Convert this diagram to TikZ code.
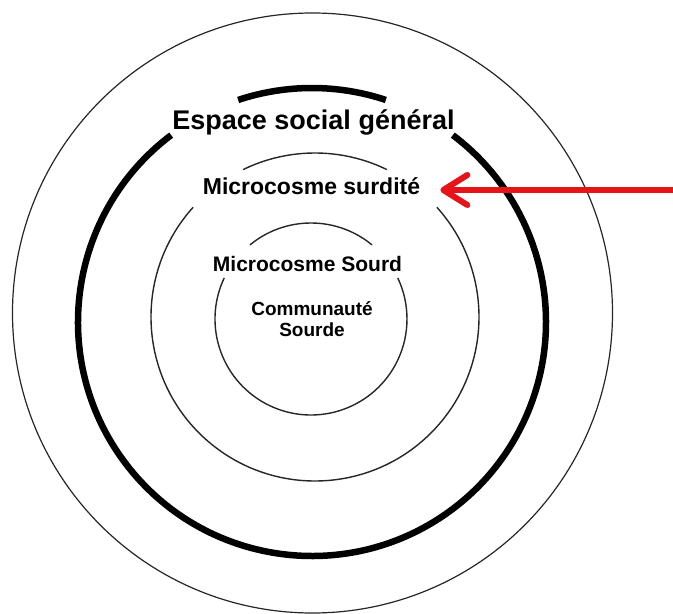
\documentclass[tikz,border=0pt]{standalone}
\usepackage{fontspec}
\setmainfont{Liberation Sans}
\usetikzlibrary{arrows.meta}
\definecolor{arrowred}{RGB}{228,20,24}
\tikzstyle{ring} = [
    line width=1.4pt,
    draw=black!85
]
\tikzstyle{thickring} = [
    line width=6.5pt,
    draw=black
]
\tikzstyle{ringtitle} = [
    inner sep=0pt,
    anchor=base
]
\tikzstyle{redarrow} = [line width=6pt, draw=arrowred, -{Straight Barb[length=24pt,width=30pt,round]}]

\begin{document}
\begin{tikzpicture}[x=1pt, y=1pt]
\useasboundingbox (0,0) rectangle (673,614);

\coordinate (outer) at (312.5,301);
\coordinate (social) at (312,292);
\coordinate (deafness) at (315,297);
\coordinate (deaf) at (311,295);

% outer ring
\draw [ring, line width=1.2pt] (outer) circle (300);

% thick ring, broken by its title
\draw [thickring] ([shift={(71.6:234)}]social) arc (71.6:108.4:234);
\draw [thickring] ([shift={(127:234)}]social) arc (127:413:234);

% middle ring
\draw [ring] ([shift={(64:164)}]deafness) arc (64:116:164);
\draw [ring] ([shift={(138:164)}]deafness) arc (138:402:164);

% inner ring
\draw [ring] ([shift={(50.5:96)}]deaf) arc (50.5:129.5:96);
\draw [ring] ([shift={(154.7:96)}]deaf) arc (154.7:385.3:96);

\node (general) [ringtitle, font=\bfseries\fontsize{27}{32}\selectfont]
at (313.5,484) {Espace social général};

\node (surdite) [ringtitle, inner xsep=20pt, font=\bfseries\fontsize{23}{27}\selectfont]
at (311.5,419) {Microcosme surdité};

\node (sourd) [ringtitle, font=\bfseries\fontsize{21}{25}\selectfont]
at (307.5,342) {Microcosme Sourd};

\node (communaute) [align=center, inner sep=0pt, font=\bfseries\fontsize{19}{21}\selectfont]
at (312,295) {Communauté\\Sourde};

\coordinate (arrowtail) at (673,424);
\draw [redarrow] (arrowtail) -- (arrowtail -| surdite.east);

\end{tikzpicture}
\end{document}
